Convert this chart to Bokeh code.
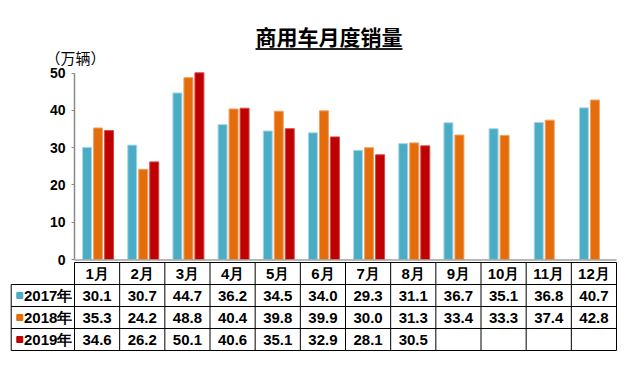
from bokeh.plotting import figure
from bokeh.models import Range1d, FixedTicker, Label
from bokeh.embed import file_html
from bokeh.resources import INLINE
from bokeh.core.properties import value

# ---- data ----
months = ["1月", "2月", "3月", "4月", "5月", "6月", "7月", "8月", "9月", "10月", "11月", "12月"]
years = ["2017年", "2018年", "2019年"]
s2017 = [30.1, 30.7, 44.7, 36.2, 34.5, 34.0, 29.3, 31.1, 36.7, 35.1, 36.8, 40.7]
s2018 = [35.3, 24.2, 48.8, 40.4, 39.8, 39.9, 30.0, 31.3, 33.4, 33.3, 37.4, 42.8]
s2019 = [34.6, 26.2, 50.1, 40.6, 35.1, 32.9, 28.1, 30.5]
series = [s2017, s2018, s2019]
y_ticks = [0, 10, 20, 30, 40, 50]
title_text = "商用车月度销量"
unit_text = "（万辆）"

# ---- styles ----
colors = ["#4BACC6", "#E46C0A", "#C00000"]
edges = ["#A8D8E6", "#F0A060", "#D24A4A"]
FONT = "Liberation Sans"
CJK = "Noto Sans CJK SC"

W, H = 640, 375
PX = 542 / 12.0           # pixels per month column
PY = 37.26 / 10.0         # pixels per value unit
X0 = 74                   # canvas x of the value axis
Y0 = 259                  # canvas y of value 0


def px2x(p):
    return (p - X0) / PX - 0.5


def py2y(p):
    return (Y0 - p) / PY


p = figure(width=W, height=H, x_range=Range1d(px2x(0), px2x(W)), y_range=Range1d(py2y(H), py2y(0)),
           output_backend="svg", toolbar_location=None, x_axis_location=None,
           min_border_left=0, min_border_right=0, min_border_top=0, min_border_bottom=0)
p.outline_line_color = None
p.xgrid.visible = False
p.ygrid.visible = False

ax = p.yaxis[0]
ax.fixed_location = -0.5
ax.ticker = FixedTicker(ticks=y_ticks)
ax.bounds = (0, 50)
ax.axis_line_color = "#8A8A8A"
ax.axis_line_width = 1.5
ax.major_tick_line_color = "#8A8A8A"
ax.major_tick_out = 3
ax.major_tick_in = 0
ax.minor_tick_line_color = None
ax.major_label_text_font = FONT
ax.major_label_text_font_style = "bold"
ax.major_label_text_font_size = "14px"
ax.major_label_text_color = "#000000"
ax.major_label_standoff = 6

# ---- bars ----
step = 11 / PX
for k, vals in enumerate(series):
    xs = [j + (k - 1) * step + 1 / PX for j in range(len(vals))]
    p.vbar(x=xs, top=vals, bottom=0, width=9 / PX, fill_color=colors[k],
           line_color=edges[k], line_width=1)

# ---- title and unit ----
p.add_layout(Label(x=px2x(328.5), y=py2y(35), text=title_text, text_align="center",
                   text_baseline="middle", text_font=CJK, text_font_size="21px",
                   text_font_style="bold", text_color="#000000"))
p.segment(x0=[px2x(255)], x1=[px2x(402)], y0=[py2y(48.5)], y1=[py2y(48.5)],
          line_color="#222222", line_width=2)
p.add_layout(Label(x=px2x(45), y=py2y(57), text=unit_text, text_align="left",
                   text_baseline="middle", text_font=CJK, text_font_size="15px",
                   text_color="#000000"))

# ---- data table ----
RH = 22.0 / PY            # row height in value units
T0 = py2y(262)            # top of the table


def ty(r):
    return T0 - r * RH


n = len(months)
nr = len(years)
left = px2x(10.7)
right = n - 0.5
# gray category axis line
p.segment(x0=[-0.5], x1=[right], y0=[py2y(259.6)], y1=[py2y(259.6)], line_color="#A0A0A0", line_width=1.5)
# horizontal lines
hx0 = [-0.5] + [left] * nr
hy = [ty(r) for r in range(nr + 2)]
p.segment(x0=hx0 + [left], x1=[right] * (nr + 2), y0=hy, y1=hy, line_color="#000000", line_width=1)
# vertical lines
vx = [j - 0.5 for j in range(n + 1)] + [left]
vy0 = [ty(0)] * (n + 1) + [ty(1)]
p.segment(x0=vx, x1=vx, y0=vy0, y1=[ty(nr + 1)] * (n + 2), line_color="#000000", line_width=1)

mid = lambda r: T0 - (r + 0.5) * RH
# month headers
p.text(x=list(range(n)), y=[mid(0)] * n, text=months, text_align="center", text_baseline="middle",
       text_font=value(FONT), text_font_style="bold", text_font_size="15px", text_color="#000000")
# values
for k, vals in enumerate(series):
    p.text(x=list(range(len(vals))), y=[mid(k + 1)] * len(vals), text=[f"{v:.1f}" for v in vals],
           text_align="center", text_baseline="middle", text_font=value(FONT),
           text_font_style="bold", text_font_size="15px", text_color="#000000")
# row labels with colour keys
p.text(x=[px2x(23.5)] * nr, y=[mid(k + 1) for k in range(nr)], text=years, text_align="left",
       text_baseline="middle", text_font=value(FONT), text_font_style="bold",
       text_font_size="15px", text_color="#000000")
p.scatter(x=[px2x(19.3)] * nr, y=[mid(k + 1) for k in range(nr)], marker="square", size=6,
          fill_color=colors, line_color=colors)

open("out.html", "w").write(file_html(p, INLINE))
